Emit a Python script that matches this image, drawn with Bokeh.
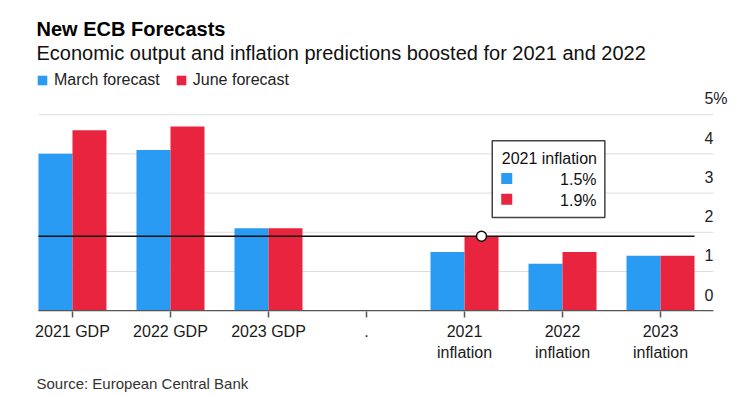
import numpy as np
from bokeh.plotting import figure
from bokeh.models import (Range1d, FixedTicker, LinearAxis, Title, Legend, LegendItem)
from bokeh.core.properties import value
from bokeh.embed import file_html
from bokeh.resources import INLINE

# ---- data ----
categories = ["2021 GDP", "2022 GDP", "2023 GDP", ".",
              "2021\ninflation", "2022\ninflation", "2023\ninflation"]
march = [4.0, 4.1, 2.1, np.nan, 1.5, 1.2, 1.4]
june = [4.6, 4.7, 2.1, np.nan, 1.9, 1.5, 1.4]
yticks = [0, 1, 2, 3, 4, 5]
ytick_labels = ["0", "1", "2", "3", "4", "5%"]
highlight = 4
tooltip_title = "2021 inflation"
series_names = ["March forecast", "June forecast"]

# ---- style ----
BLUE = "#2A9BF2"
RED = "#E8243F"
FONT = "Liberation Sans"
PX_PER_UNIT = 39.2
bw = 0.347
x_start, x_end = -0.367, 6.816
grid_end = 6.54

xs = np.arange(len(categories))

p = figure(frame_width=704, frame_height=240,
           x_range=Range1d(x_start, x_end), y_range=Range1d(-0.02, 6.1),
           output_backend="svg", toolbar_location=None, title=None,
           x_axis_location=None, y_axis_location=None,
           min_border_left=36, min_border_right=0, min_border_top=71,
           min_border_bottom=0, outline_line_color=None)
p.grid.visible = False

# titles
sub = Title(text="Economic output and inflation predictions boosted for 2021 and 2022",
            text_font_size="20px", text_font_style="normal", text_font=FONT,
            text_color="#111111", align="left", standoff=15)
main = Title(text="New ECB Forecasts", text_font_size="20px", text_font_style="bold",
             text_font=FONT, text_color="#000000", align="left", standoff=-15)
p.add_layout(sub, "above")
p.add_layout(main, "above")

# gridlines
p.segment(x0=[xs[0] - bw] * len(yticks), x1=[grid_end] * len(yticks),
          y0=yticks, y1=yticks, line_color="#dddddd", line_width=1)

# bars
r1 = p.vbar(x=xs - bw / 2, top=march, bottom=0, width=bw, fill_color=BLUE, line_color=None)
r2 = p.vbar(x=xs + bw / 2, top=june, bottom=0, width=bw, fill_color=RED, line_color=None)

# baseline
p.segment(x0=[xs[0] - bw], x1=[grid_end], y0=[0], y1=[0], line_color="#555555", line_width=1.5)

# hover line and marker
hv = june[highlight]
p.segment(x0=[xs[0] - bw], x1=[xs[-1] + bw], y0=[hv], y1=[hv], line_color="#111111", line_width=1.5)
p.scatter(x=[xs[highlight] + bw / 2], y=[hv], size=10, fill_color="white",
          line_color="#111111", line_width=1.5)

# y tick labels on the right, above their gridlines
p.text(x=[grid_end] * len(yticks), y=[t + 16 / PX_PER_UNIT for t in yticks], text=ytick_labels,
       x_offset=-9, text_align="left", text_baseline="alphabetic",
       text_font=value(FONT), text_font_size="16px", text_color="#222222")

# tooltip box
bl, br, bb, bt = 4.283, 5.432, 2.38, 4.337
p.quad(left=[bl], right=[br], bottom=[bb], top=[bt], fill_color="white",
       line_color="#444444", line_width=1.5)
p.text(x=[bl + 9.5 / 98], y=[bt - 17.5 / PX_PER_UNIT], text=[tooltip_title],
       text_align="left", text_baseline="alphabetic", text_font=value(FONT),
       text_font_size="16px", text_color="#111111")
row_y = [bt - 37.8 / PX_PER_UNIT, bt - 58.7 / PX_PER_UNIT]
p.rect(x=[bl + 14.5 / 98] * 2, y=row_y, width=11, height=11, width_units="screen",
       height_units="screen", fill_color=[BLUE, RED], line_color=None)
p.text(x=[br - 8.3 / 98] * 2, y=[r - 1 / PX_PER_UNIT for r in row_y],
       text=[f"{march[highlight]}%", f"{june[highlight]}%"],
       text_align="right", text_baseline="alphabetic", text_font=value(FONT),
       text_font_size="16px", text_color="#111111")

# x axis
xaxis = LinearAxis(ticker=FixedTicker(ticks=list(int(i) for i in xs)),
                   major_label_overrides={int(i): c for i, c in enumerate(categories)})
xaxis.axis_line_color = None
xaxis.major_tick_out = 6
xaxis.major_tick_in = 0
xaxis.major_tick_line_color = "#555555"
xaxis.major_tick_line_width = 1.5
xaxis.minor_tick_line_color = None
xaxis.major_label_standoff = 5
xaxis.major_label_text_font = FONT
xaxis.major_label_text_font_size = "16px"
xaxis.major_label_text_color = "#1a1a1a"
xaxis.major_label_text_line_height = 1.25
p.add_layout(xaxis, "below")

src = Title(text="Source: European Central Bank", text_font_size="15px",
            text_font_style="normal", text_font=FONT, text_color="#333333",
            align="left", standoff=18)
p.add_layout(src, "below")

# legend
legend = Legend(items=[LegendItem(label=series_names[0], renderers=[r1]),
                       LegendItem(label=series_names[1], renderers=[r2])],
                location="top_left", orientation="horizontal", margin=0, padding=0,
                spacing=15, glyph_width=12, glyph_height=12, label_standoff=6,
                label_text_font=FONT, label_text_font_size="16px",
                label_text_color="#222222", border_line_color=None,
                background_fill_alpha=0, label_height=12)
p.add_layout(legend)

open("out.html", "w").write(file_html(p, INLINE))
